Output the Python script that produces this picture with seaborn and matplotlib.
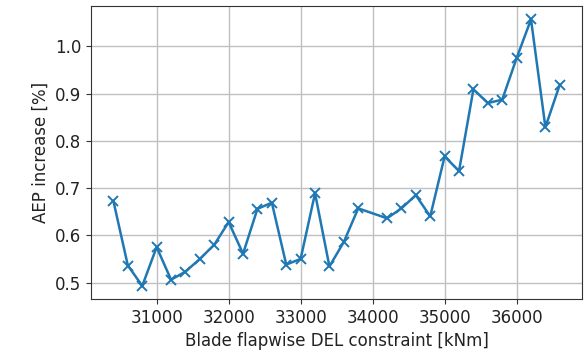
import numpy as np
import pandas as pd
import matplotlib
matplotlib.use('Agg')
import matplotlib.pyplot as plt
import seaborn as sns

del_constraint = [30400, 30600, 30800, 31000, 31200, 31400, 31600, 31800, 32000, 32200,
                  32400, 32600, 32800, 33000, 33200, 33400, 33600, 33800, 34200, 34400,
                  34600, 34800, 35000, 35200, 35400, 35600, 35800, 36000, 36200, 36400, 36600]
aep_increase = [0.672, 0.536, 0.493, 0.575, 0.506, 0.523, 0.550, 0.580, 0.628, 0.561,
                0.656, 0.669, 0.538, 0.550, 0.689, 0.534, 0.586, 0.657, 0.636, 0.657,
                0.685, 0.640, 0.767, 0.736, 0.909, 0.880, 0.887, 0.975, 1.057, 0.829, 0.919]

df = pd.DataFrame({'del': del_constraint, 'aep': aep_increase})

plt.rcParams['font.size'] = 12
plt.rcParams['axes.edgecolor'] = '#333333'
plt.rcParams['xtick.color'] = '#333333'
plt.rcParams['ytick.color'] = '#333333'
plt.rcParams['xtick.labelcolor'] = '#222222'
plt.rcParams['ytick.labelcolor'] = '#222222'

fig = plt.figure(figsize=(5.88, 3.57), dpi=100)
ax = fig.add_axes([0.155, 0.162, 0.835, 0.821])
sns.lineplot(data=df, x='del', y='aep', marker='x', markersize=7, markeredgewidth=1.4,
             markeredgecolor='#1f77b4', color='#1f77b4', linewidth=1.8, ax=ax)
ax.grid(True, color='#c0c0c0', linewidth=1.0)
ax.set_axisbelow(True)
ax.set_xticks([31000, 32000, 33000, 34000, 35000, 36000])
ax.set_xlabel('Blade flapwise DEL constraint [kNm]', color='#222222')
ax.set_ylabel('AEP increase [%]', color='#222222')
fig.savefig('out.png', dpi=100)
